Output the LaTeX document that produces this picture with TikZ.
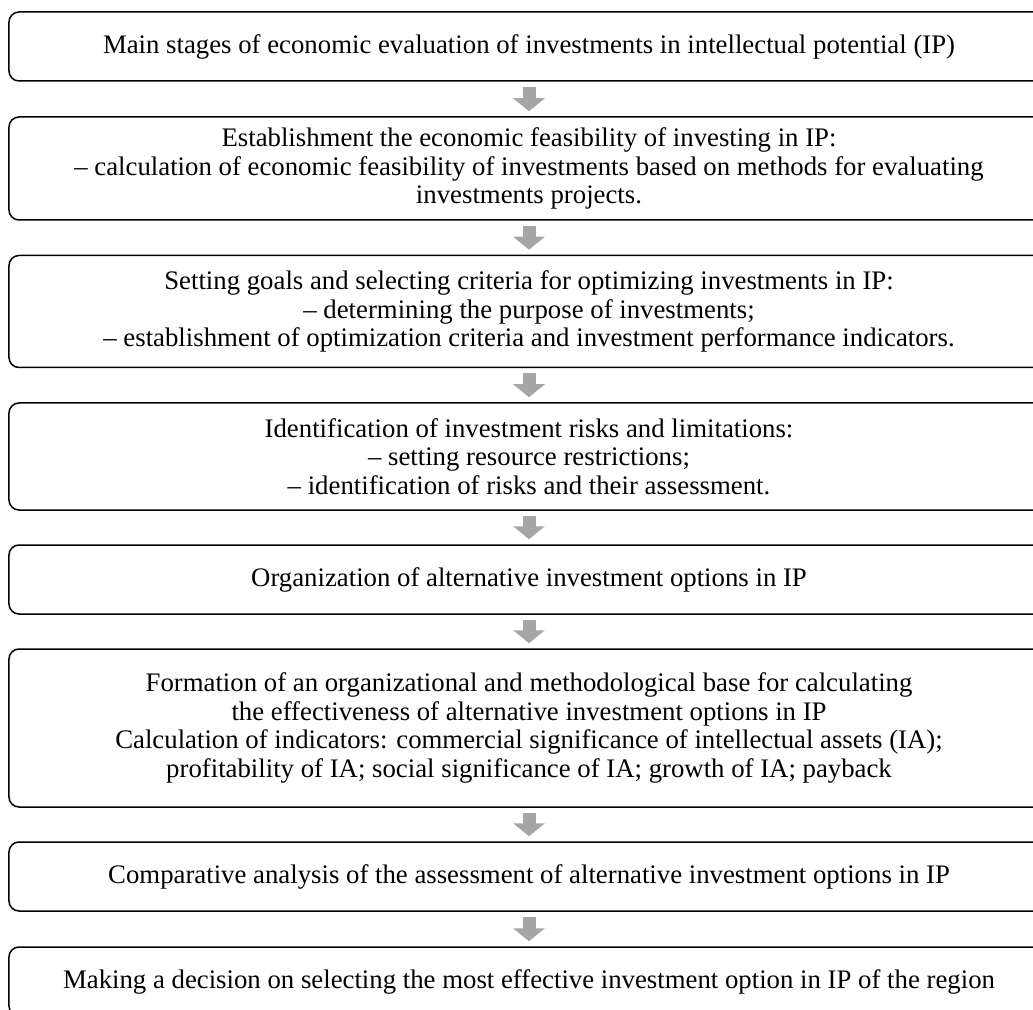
\documentclass[tikz,border=0pt]{standalone}
\usepackage{fontspec}
\setmainfont{Liberation Serif}
\usetikzlibrary{arrows.meta}
\tikzset{stage/.style = {shape=rectangle,draw,rounded corners=4.8pt,line width=0.72pt,
    minimum width=499.2pt,inner sep=0pt,align=center,
    font=\fontsize{12.85}{13.7}\selectfont}}
\tikzset{step arrow/.style = {draw=black!35,line width=6.24pt,
    shorten <=2.4pt,shorten >=2.4pt,
    -{Triangle[width=14.9pt,length=6.24pt,fill=black!35]}}}

\begin{document}
\begin{tikzpicture}[x=0.48pt,y=-0.48pt]
                \useasboundingbox (0,0) rectangle (1033,1010);
                \clip (0,0) rectangle (1033,1010);
                \node[stage,minimum height=33.12pt] (S1) at (529,46.5) {Main stages of economic evaluation of investments in intellectual potential (IP)};
                \node[stage,minimum height=49.44pt] (S2) at (529,168.5) {Establishment the economic feasibility of investing in IP:\\
                    – calculation of economic feasibility of investments based on methods for evaluating\\
                    investments projects.};
                \node[stage,minimum height=53.76pt] (S3) at (529,311.5) {Setting goals and selecting criteria for optimizing investments in IP:\\
                    – determining the purpose of investments;\\
                    – establishment of optimization criteria and investment performance indicators.};
                \node[stage,minimum height=51.36pt] (S4) at (529,456.5) {Identification of investment risks and limitations:\\
                    – setting resource restrictions;\\
                    – identification of risks and their assessment.};
                \node[stage,minimum height=33.12pt] (S5) at (529,579.5) {Organization of alternative investment options in IP};
                \node[stage,minimum height=75.84pt] (S6) at (529,728) {Formation of an organizational and methodological base for calculating\\
                    the effectiveness of alternative investment options in IP\\
                    Calculation of indicators: commercial significance of intellectual assets (IA);\\
                    profitability of IA; social significance of IA; growth of IA; payback};
                \node[stage,minimum height=33.12pt] (S7) at (529,876.5) {Comparative analysis of the assessment of alternative investment options in IP};
                \node[stage,minimum height=33.12pt] (S8) at (529,981.5) {Making a decision on selecting the most effective investment option in IP of the region};
                \draw[step arrow] (S1) -- (S2);
                \draw[step arrow] (S2) -- (S3);
                \draw[step arrow] (S3) -- (S4);
                \draw[step arrow] (S4) -- (S5);
                \draw[step arrow] (S5) -- (S6);
                \draw[step arrow] (S6) -- (S7);
                \draw[step arrow] (S7) -- (S8);
            \end{tikzpicture}
\end{document}
